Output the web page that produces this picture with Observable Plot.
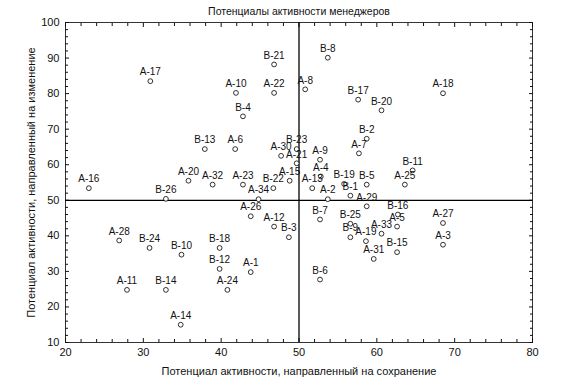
<!DOCTYPE html>
<html>
<head>
<meta charset="utf-8">
<script src="https://cdn.jsdelivr.net/npm/d3@7"></script>
<script src="https://cdn.jsdelivr.net/npm/@observablehq/plot@0.6"></script>
<style>
  html, body { margin: 0; padding: 0; background: #fff; }
</style>
</head>
<body>
<div id="chart"></div>
<script>
const chartTitle = "Потенциалы активности менеджеров";
const xTitle = "Потенциал активности, направленный на сохранение";
const yTitle = "Потенциал активности, направленный на изменение";

const names = ["A-17","B-21","B-8","A-10","A-22","A-8","B-17","B-4","A-18","B-20",
  "B-13","A-16","A-20","A-32","B-26","A-6","B-23","A-30","A-21","A-9",
  "A-4","A-15","A-23","B-22","A-13","B-19","B-1","B-5","A-2","A-34",
  "A-29","A-7","B-2","A-26","B-7","B-25","A-12","B-11","A-25","B-16",
  "A-5","A-33","A-27","A-19","B-9","B-15","A-31","A-3","A-28","B-24",
  "B-10","A-11","B-14","A-14","B-18","B-12","A-1","A-24","B-6","B-3"];
const preserve = [30.9,46.8,53.7,41.9,46.8,50.8,57.6,42.8,68.5,60.6,
  37.9,23.0,35.8,38.9,32.9,41.8,49.7,47.7,49.7,52.7,
  52.8,48.8,42.8,46.7,51.7,55.8,56.6,58.7,53.7,44.8,
  58.7,57.7,58.7,43.8,52.7,56.6,46.8,64.6,63.6,62.7,
  62.6,60.6,68.5,58.6,56.6,62.6,59.6,68.5,26.9,30.8,
  34.9,27.9,32.9,34.8,39.8,39.8,43.8,40.8,52.7,48.7];
const change = [83.5,88.2,90.1,80.2,80.2,81.2,78.3,73.6,80.1,75.3,
  64.4,53.4,55.5,54.4,50.4,64.4,64.4,62.5,60.4,61.4,
  56.7,55.5,54.4,53.4,53.4,54.6,51.3,54.4,50.3,50.3,
  48.3,63.2,67.3,45.5,44.6,43.4,42.6,58.4,54.4,46.0,
  42.6,40.6,43.6,38.5,39.6,35.4,33.5,37.5,38.7,36.6,
  34.7,24.8,24.8,15.0,36.6,30.7,29.8,24.8,27.7,39.6];

const xTicks = [20,30,40,50,60,70,80];
const yTicks = [10,20,30,40,50,60,70,80,90,100];
const xMinor = [22,24,26,28,32,34,36,38,42,44,46,48,52,54,56,58,62,64,66,68,72,74,76,78];
const yMinor = [12,14,16,18,22,24,26,28,32,34,36,38,42,44,46,48,52,54,56,58,62,64,66,68,72,74,76,78,82,84,86,88,92,94,96,98];
const splitX = [50];
const splitY = [50];

const data = names.map((n, i) => ({name: n, x: preserve[i], y: change[i]}));
const none = () => "";

const chart = Plot.plot({
  width: 582,
  height: 392,
  marginLeft: 65,
  marginRight: 50,
  marginTop: 22,
  marginBottom: 50,
  style: {fontFamily: "'Liberation Sans', Arial, sans-serif", fontSize: "10px", background: "#fff", color: "#111"},
  x: {domain: [20, 80]},
  y: {domain: [10, 100]},
  marks: [
    Plot.frame({stroke: "#333", strokeWidth: 1}),
    Plot.axisX({anchor: "bottom", ticks: xTicks, tickSize: 0, tickPadding: 6, fontSize: 11, label: xTitle, labelAnchor: "center", labelOffset: 32, labelArrow: false}),
    Plot.axisY({anchor: "left", ticks: yTicks, tickSize: 0, tickPadding: 6, fontSize: 11, label: yTitle, labelAnchor: "center", labelOffset: 38, labelArrow: false}),
    Plot.axisX({anchor: "bottom", ticks: xTicks, tickSize: -4, tickFormat: none, label: null}),
    Plot.axisX({anchor: "bottom", ticks: xMinor, tickSize: -3, tickFormat: none, label: null}),
    Plot.axisX({anchor: "top", ticks: xTicks, tickSize: -4, tickFormat: none, label: null}),
    Plot.axisX({anchor: "top", ticks: xMinor, tickSize: -3, tickFormat: none, label: null}),
    Plot.axisY({anchor: "left", ticks: yTicks, tickSize: -4, tickFormat: none, label: null}),
    Plot.axisY({anchor: "left", ticks: yMinor, tickSize: -3, tickFormat: none, label: null}),
    Plot.axisY({anchor: "right", ticks: yTicks, tickSize: -4, tickFormat: none, label: null}),
    Plot.axisY({anchor: "right", ticks: yMinor, tickSize: -3, tickFormat: none, label: null}),
    Plot.ruleX(splitX, {stroke: "#000", strokeWidth: 1.3}),
    Plot.ruleY(splitY, {stroke: "#000", strokeWidth: 1.3}),
    Plot.dot(data, {x: "x", y: "y", r: 2.4, stroke: "#000", strokeWidth: 0.8, fill: "#fff"}),
    Plot.text(data, {x: "x", y: "y", text: "name", dy: -9, fontSize: 10, fill: "#111"}),
    Plot.text([chartTitle], {frameAnchor: "top", dy: -15, fontSize: 10.5, fill: "#111"})
  ]
});
document.getElementById("chart").appendChild(chart);
</script>
</body>
</html>
